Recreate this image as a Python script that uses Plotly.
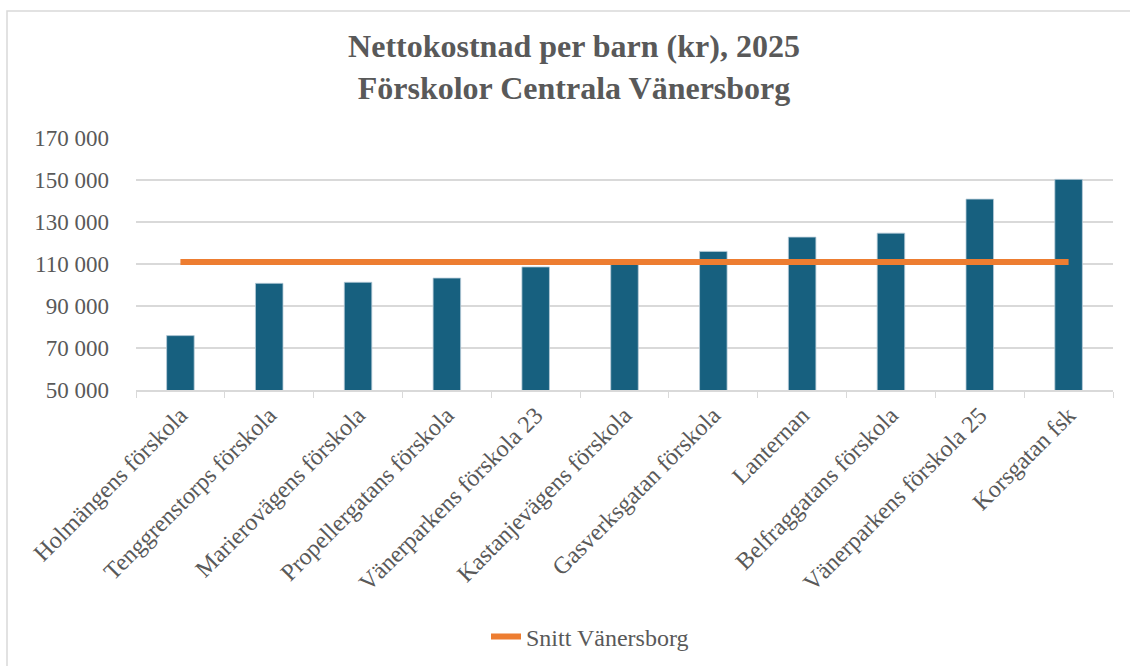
import plotly.graph_objects as go

categories = ["Holmängens förskola", "Tenggrenstorps förskola", "Marierovägens förskola",
              "Propellergatans förskola", "Vänerparkens förskola 23", "Kastanjevägens förskola",
              "Gasverksgatan förskola", "Lanternan", "Belfraggatans förskola",
              "Vänerparkens förskola 25", "Korsgatan fsk"]
cost = [75900, 100800, 101300, 103300, 108600, 110400, 116000, 122800, 124700, 140900, 150300]
average = [111000] * len(categories)
y_ticks = [50000, 70000, 90000, 110000, 130000, 150000, 170000]
y_tick_text = ["50 000", "70 000", "90 000", "110 000", "130 000", "150 000", "170 000"]

W, H = 1130, 666
L, R, T, B = 136, 17, 138, 276
pw, ph = W - L - R, H - T - B

def px(x):
    return (x - L) / pw

def py(y):
    return (H - B - y) / ph

grey = "#595959"
font_family = "Liberation Serif, Times New Roman, serif"

fig = go.Figure()
fig.add_trace(go.Bar(
    x=categories, y=cost, name="Nettokostnad",
    marker=dict(color="#17607F", line=dict(color="#b8ccd8", width=0.8)),
    width=0.31, showlegend=False,
))
fig.add_trace(go.Scatter(
    x=categories, y=average, name="Snitt Vänersborg", mode="lines",
    line=dict(color="#ED7D31", width=6),
))

fig.update_layout(
    width=W, height=H,
    margin=dict(l=L, r=R, t=T, b=B, autoexpand=False),
    paper_bgcolor="white", plot_bgcolor="white",
    font=dict(family=font_family, color=grey, size=23),
    title=dict(
        text="<b>Nettokostnad per barn (kr), 2025<br>Förskolor Centrala Vänersborg</b>",
        x=574 / W, xref="container", xanchor="center",
        y=1 - 57 / H, yref="container", yanchor="middle",
        font=dict(family=font_family, size=32, color=grey),
    ),
    xaxis=dict(
        type="category", tickangle=-45, tickfont=dict(size=24, color=grey),
        showgrid=False, showline=True, linecolor="#d9d9d9", linewidth=1.5,
        ticks="outside", tickson="boundaries", ticklen=6, tickcolor="#d9d9d9",
        range=[-0.5, len(categories) - 0.5], automargin=False,
    ),
    yaxis=dict(
        range=[50000, 170000], tickvals=y_ticks, ticktext=y_tick_text,
        tickfont=dict(size=23, color=grey), showgrid=True, gridcolor="#d9d9d9",
        gridwidth=1.5, zeroline=False, ticks="", ticklen=0, automargin=False,
        ticklabelstandoff=26,
    ),
    legend=dict(
        orientation="h", x=590 / W, xanchor="center", xref="container",
        y=1 - 637 / H, yanchor="middle", yref="container",
        font=dict(size=24, color=grey),
    ),
    bargap=0.69,
    shapes=[dict(
        type="rect", xref="paper", yref="paper",
        x0=px(7), x1=px(1140), y0=py(680), y1=py(11),
        line=dict(color="#d9d9d9", width=1.5), fillcolor="rgba(0,0,0,0)", layer="below",
    )],
)

fig.write_html("out.html", config={"displayModeBar": False},
               post_script="document.body.style.margin='0';")
